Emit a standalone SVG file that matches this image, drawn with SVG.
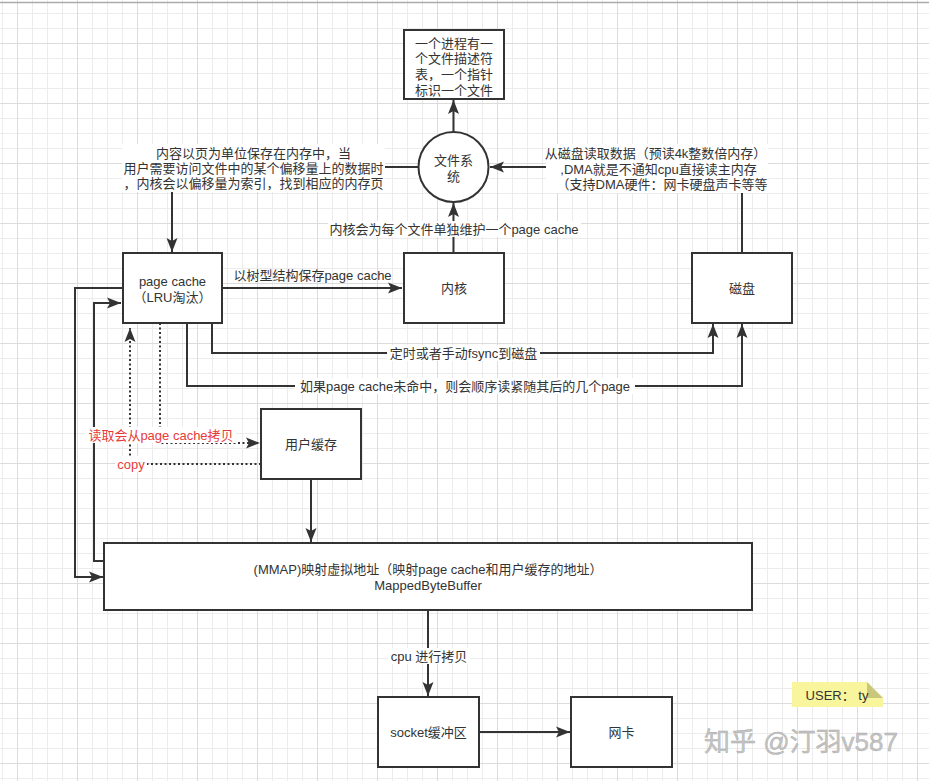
<svg xmlns="http://www.w3.org/2000/svg" width="929" height="781" viewBox="0 0 929 781">
<style>
.t{font-family:"Liberation Sans","Noto Sans CJK SC",sans-serif;font-size:13px;fill:#333;text-anchor:middle;dominant-baseline:central}
.red{fill:#e83a3a}
.box{fill:#fff;stroke:#333;stroke-width:2}
.e{fill:none;stroke:#333;stroke-width:2}
.d{fill:none;stroke:#333;stroke-width:2;stroke-dasharray:2 2.5}
.bg{fill:#fff}
</style>
<defs>
<pattern id="grid" patternUnits="userSpaceOnUse" x="17" y="43" width="60" height="60">
<path d="M15.5,0V60M30.5,0V60M45.5,0V60M0,15.5H60M0,30.5H60M0,45.5H60" stroke="#ececec" stroke-width="1" fill="none"/>
<path d="M0.5,0V60M0,0.5H60" stroke="#dcdcdc" stroke-width="1" fill="none"/>
</pattern>
<marker id="a" markerUnits="userSpaceOnUse" markerWidth="16" markerHeight="12" viewBox="-15 -6 16 12" refX="0" refY="0" orient="auto">
<path d="M0,0 L-14,-5.5 L-11,0 L-14,5.5 Z" fill="#333"/>
</marker>
</defs>
<rect width="929" height="781" fill="#fff"/>
<rect width="929" height="781" fill="url(#grid)"/>
<line x1="0" y1="2.5" x2="929" y2="2.5" stroke="#aaa" stroke-width="1.5"/>

<g id="connectors">
<path class="e" d="M453.5,132V100" marker-end="url(#a)"/>
<path class="e" d="M418,167H172V252" marker-end="url(#a)"/>
<path class="e" d="M742,253V167H490" marker-end="url(#a)"/>
<path class="e" d="M453.5,253V203" marker-end="url(#a)"/>
<path class="e" d="M222,288H402" marker-end="url(#a)"/>
<path class="e" d="M212,323V353H713V324" marker-end="url(#a)"/>
<path class="e" d="M187,323V386H742V324" marker-end="url(#a)"/>
<path class="d" d="M160,323V443H260" marker-end="url(#a)"/>
<path class="d" d="M261,464H130V328" marker-end="url(#a)"/>
<path class="e" d="M311,479V542" marker-end="url(#a)"/>
<path class="e" d="M122,288H75V577H103" marker-end="url(#a)"/>
<path class="e" d="M104,561H94V303H121" marker-end="url(#a)"/>
<path class="e" d="M428,610V696" marker-end="url(#a)"/>
<path class="e" d="M479,732H570" marker-end="url(#a)"/>

<rect class="bg" x="122" y="144" width="263" height="48"/>
<text class="t" x="253.5" y="153"><tspan x="253.5" y="153">内容以页为单位保存在内存中，当</tspan><tspan x="253.5" y="168">用户需要访问文件中的某个偏移量上的数据时</tspan><tspan x="253.5" y="183">，内核会以偏移量为索引，找到相应的内存页</tspan></text>

<rect class="bg" x="546" y="144" width="222" height="49"/>
<text class="t" x="655.5" y="153"><tspan x="655.5" y="153">从磁盘读取数据（预读4k整数倍内存）</tspan><tspan x="658.5" y="169">,DMA就是不通知cpu直接读主内存</tspan><tspan x="662" y="184">（支持DMA硬件：网卡硬盘声卡等等</tspan></text>

<rect class="bg" x="328" y="221" width="253" height="16"/>
<text class="t" x="454" y="229">内核会为每个文件单独维护一个page cache</text>

<text class="t" x="312.5" y="275">以树型结构保存page cache</text>

<rect class="bg" x="387" y="345" width="153" height="16"/>
<text class="t" x="463.5" y="353">定时或者手动fsync到磁盘</text>

<rect class="bg" x="295" y="378" width="340" height="16"/>
<text class="t" x="465" y="386">如果page cache未命中，则会顺序读紧随其后的几个page</text>

<rect class="bg" x="86" y="427" width="150" height="16"/>
<text class="t red" x="161" y="435">读取会从page cache拷贝</text>

<rect class="bg" x="115" y="456" width="32" height="16"/>
<text class="t red" x="131" y="464">copy</text>

<rect class="bg" x="388" y="648" width="82" height="16"/>
<text class="t" x="429" y="656">cpu 进行拷贝</text>
</g>

<g id="fd-table">
<rect class="box" x="404" y="30" width="100" height="69"/>
<text class="t" x="454" y="42.5"><tspan x="454" y="42.5">一个进程有一</tspan><tspan x="454" y="58.3">个文件描述符</tspan><tspan x="454" y="74">表，一个指针</tspan><tspan x="454" y="89.8">标识一个文件</tspan></text>
</g>

<g id="filesystem">
<circle class="box" cx="453.5" cy="167" r="35"/>
<text class="t" x="453.5" y="160"><tspan x="453.5" y="160">文件系</tspan><tspan x="453.5" y="175.5">统</tspan></text>
</g>

<g id="page-cache">
<rect class="box" x="123" y="253" width="99" height="70"/>
<text class="t" x="172.5" y="281"><tspan x="172.5" y="281">page cache</tspan><tspan x="172.5" y="297">（LRU淘汰）</tspan></text>
</g>

<g id="kernel">
<rect class="box" x="404" y="253" width="100" height="70"/>
<text class="t" x="454" y="288">内核</text>
</g>

<g id="disk">
<rect class="box" x="692" y="253" width="100" height="70"/>
<text class="t" x="742" y="288">磁盘</text>
</g>

<g id="user-buffer">
<rect class="box" x="261" y="409" width="100" height="70"/>
<text class="t" x="311" y="444">用户缓存</text>
</g>

<g id="mmap">
<rect class="box" x="104" y="543" width="648" height="67"/>
<text class="t" x="428" y="569"><tspan x="428" y="569">(MMAP)映射虚拟地址（映射page cache和用户缓存的地址）</tspan><tspan x="428" y="585">MappedByteBuffer</tspan></text>
</g>

<g id="socket-buffer">
<rect class="box" x="378" y="697" width="101" height="70"/>
<text class="t" x="428.5" y="732">socket缓冲区</text>
</g>

<g id="nic">
<rect class="box" x="571" y="697" width="101" height="70"/>
<text class="t" x="621.5" y="732">网卡</text>
</g>

<g id="note">
<path d="M792,682H867L883,698V707H792Z" fill="#f8f59c"/>
<path d="M867,682V698H883Z" fill="#c9c77c"/>
<text class="t" x="837" y="695">USER：  ty</text>
</g>

<text x="801" y="742" font-family="&quot;Liberation Sans&quot;,&quot;Noto Sans CJK SC&quot;,sans-serif" font-size="26" fill="#c4c4c4" text-anchor="middle" dominant-baseline="central" stroke="#ababab" stroke-width="0.4">知乎 @汀羽v587</text>
</svg>
